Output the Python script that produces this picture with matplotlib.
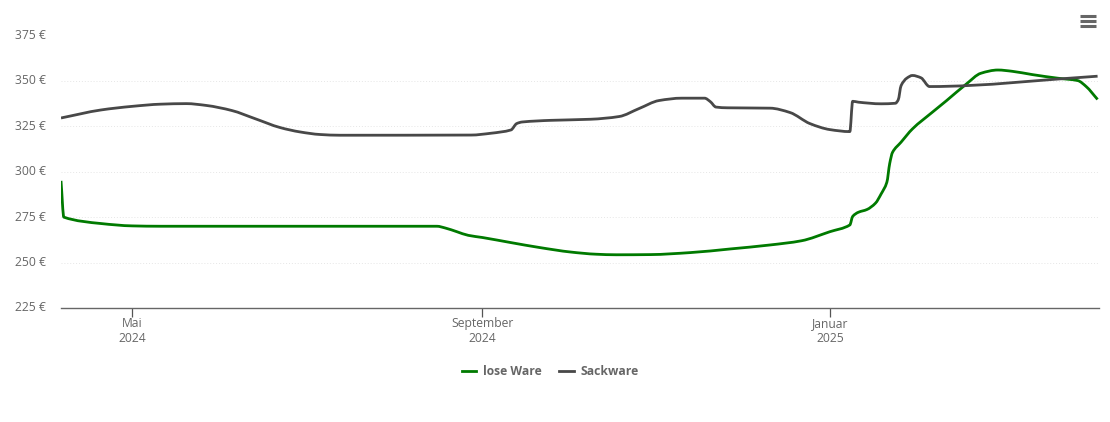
import matplotlib
matplotlib.use("Agg")
import matplotlib.pyplot as plt
import matplotlib.dates as mdates
import numpy as np
import pandas as pd
from matplotlib.lines import Line2D
from matplotlib.patches import PathPatch
from matplotlib.path import Path
from matplotlib.transforms import ScaledTranslation

plt.rcParams['font.family'] = ['Open Sans', 'DejaVu Sans']

lose_dates = ["2024-04-06", "2024-04-07", "2024-04-20", "2024-05-01", "2024-05-11", "2024-08-16",
              "2024-08-19", "2024-08-23", "2024-08-27", "2024-09-01", "2024-09-11", "2024-09-21",
              "2024-10-02", "2024-10-11", "2024-10-18", "2024-10-30", "2024-11-13", "2024-11-27",
              "2024-12-11", "2024-12-22", "2025-01-01", "2025-01-08", "2025-01-09", "2025-01-11",
              "2025-01-14", "2025-01-17", "2025-01-19", "2025-01-21", "2025-01-22", "2025-01-23",
              "2025-01-26", "2025-01-30", "2025-02-06", "2025-02-11", "2025-02-18", "2025-02-23",
              "2025-03-01", "2025-03-06", "2025-03-13", "2025-03-22", "2025-03-29", "2025-04-01",
              "2025-04-05"]
lose_values = [295, 275, 271.5, 270.2, 270, 270,
               269, 267, 265, 263.8, 261, 258.3,
               255.8, 254.6, 254.3, 254.4, 255.5, 257.5,
               259.7, 262, 267, 270.7, 275.4, 277.7,
               279.2, 282.7, 287.8, 294.2, 304.5, 310.7,
               316.3, 323.6, 332.8, 339.2, 348.4, 354.2,
               356, 355.3, 353.5, 351.5, 350.2, 346.9,
               339.8]

sack_dates = ["2024-04-06", "2024-04-20", "2024-05-01", "2024-05-11", "2024-05-20", "2024-05-27",
              "2024-06-05", "2024-06-13", "2024-06-22", "2024-06-29", "2024-07-06", "2024-07-13",
              "2024-08-28", "2024-09-04", "2024-09-11", "2024-09-13", "2024-09-15", "2024-09-25",
              "2024-10-09", "2024-10-19", "2024-10-26", "2024-11-02", "2024-11-10", "2024-11-18",
              "2024-11-20", "2024-11-22", "2024-11-26", "2024-12-11", "2024-12-18", "2024-12-25",
              "2025-01-01", "2025-01-08", "2025-01-09", "2025-01-11", "2025-01-19", "2025-01-24",
              "2025-01-25", "2025-01-26", "2025-01-28", "2025-01-30", "2025-02-02", "2025-02-05",
              "2025-04-05"]
sack_values = [329.6, 334, 336, 337.2, 337.5, 336.5,
               333.7, 329.3, 324.3, 321.9, 320.5, 320.1,
               320.2, 321.2, 323, 326.5, 327.4, 328.3,
               328.9, 330.4, 334.8, 339.2, 340.5, 340.5,
               338.6, 335.6, 335.2, 335, 332.6, 326.5,
               323.2, 322.1, 338.8, 338.3, 337.4, 337.7,
               339.6, 347.4, 351.5, 353, 351.7, 346.9,
               352.6]

y_ticks = [225, 250, 275, 300, 325, 350, 375]
x_ticks = ["2024-05-01", "2024-09-01", "2025-01-01"]
x_labels = ["Mai\n2024", "September\n2024", "Januar\n2025"]

GREEN = "#007a00"
GRAY = "#484848"
LW = 2.0


def spline_path(dates, values):
    # the source chart is a spline, so draw through the points with monotone beziers
    x = mdates.date2num(pd.to_datetime(dates))
    y = np.array(values, dtype=float)
    h = np.diff(x)
    s = np.diff(y) / h
    m = np.zeros_like(y)
    m[0], m[-1] = s[0], s[-1]
    for i in range(1, len(y) - 1):
        if s[i - 1] * s[i] > 0:
            m[i] = 2 * s[i - 1] * s[i] / (s[i - 1] + s[i])
    verts = [(x[0], y[0])]
    codes = [Path.MOVETO]
    for i in range(len(h)):
        verts.append((x[i] + h[i] / 3, y[i] + m[i] * h[i] / 3))
        verts.append((x[i + 1] - h[i] / 3, y[i + 1] - m[i + 1] * h[i] / 3))
        verts.append((x[i + 1], y[i + 1]))
        codes += [Path.CURVE4] * 3
    return Path(verts, codes)


W, H = 1110, 422
fig = plt.figure(figsize=(W / 100, H / 100), dpi=100)
ax = fig.add_axes([61 / W, 1 - 308 / H, 1038 / W, 272.5 / H])

ax.add_patch(PathPatch(spline_path(lose_dates, lose_values), fill=False, edgecolor=GREEN, lw=LW,
                       joinstyle="round", zorder=3))
ax.add_patch(PathPatch(spline_path(sack_dates, sack_values), fill=False, edgecolor=GRAY, lw=LW,
                       joinstyle="round", zorder=4))

ax.xaxis_date()
ax.set_xlim(pd.Timestamp("2024-04-06"), pd.Timestamp("2025-04-05 12:00"))
ax.set_ylim(225, 375)

ax.set_yticks(y_ticks)
ax.set_yticklabels([f"{v} €" for v in y_ticks])
ax.set_xticks(pd.to_datetime(x_ticks))
ax.set_xticklabels(x_labels, linespacing=1.25)
ax.tick_params(axis="y", length=0, pad=11, labelsize=8.7, labelcolor="#666666")
ax.tick_params(axis="x", length=6.5, width=0.9, color="#555555", pad=-0.3, labelsize=8.7, labelcolor="#666666")
ax.grid(axis="y", color="#e6e6e6", lw=0.7, linestyle=(0, (1, 2)))
ax.set_axisbelow(True)

# y labels sit a bit above their grid lines
shift = ScaledTranslation(0, 1.5 / 100, fig.dpi_scale_trans)
for lab in ax.get_yticklabels():
    lab.set_transform(lab.get_transform() + shift)

for s in ["top", "left", "right"]:
    ax.spines[s].set_visible(False)
ax.spines["bottom"].set_color("#666666")
ax.spines["bottom"].set_linewidth(1.0)

handles = [Line2D([], [], color=GREEN, lw=LW), Line2D([], [], color=GRAY, lw=LW)]
fig.legend(handles, ["lose Ware", "Sackware"], loc="center", bbox_to_anchor=(550 / W, 1 - 371.5 / H),
           ncol=2, frameon=False, handlelength=1.2, handletextpad=0.55, columnspacing=1.45,
           prop={"size": 8.7, "weight": "bold"}, labelcolor="#666666")

# menu icon
for y in [16, 21, 26]:
    fig.add_artist(Line2D([1080 / W, 1096 / W], [1 - y / H, 1 - y / H], color="#666666", lw=2.2,
                          solid_capstyle="butt"))

fig.savefig("out.png", dpi=100)
